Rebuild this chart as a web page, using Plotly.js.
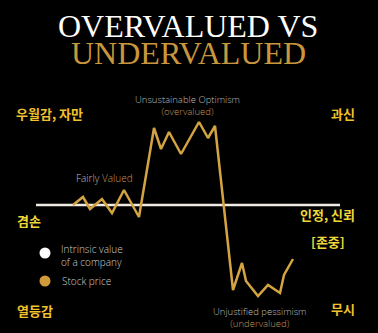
<!DOCTYPE html>
<html>
<head>
<meta charset="utf-8">
<script src="https://cdn.plot.ly/plotly-3.0.1.min.js"></script>
<style>
html,body{margin:0;padding:0;background:#000;}
#chart{width:378px;height:333px;}
</style>
</head>
<body>
<div id="chart"></div>
<script>
// Data (time index and price level; intrinsic value level)
const time = [73, 83, 90, 102, 112, 124, 139, 154, 161, 169, 181, 199, 208, 215, 233, 242, 246, 258, 268, 280, 284, 293];
const price = [128, 136, 124, 134, 120, 143, 116, 205, 184, 201, 179, 211, 195, 207, 43, 70, 52, 37, 48, 40, 58, 74];
const intrinsicTime = [36, 340];
const intrinsicValue = [128, 128];

const H = 333;
const Y = py => H - py; // page-position helper for labels

const gold = '#d4a443';
const korYellow = '#f2c22c';
const korYellow2 = '#f0d83a';
const grayTxt = '#bdbdbd';
const goldTxt = '#c4975a';
const sans = 'Open Sans, Lato, sans-serif';
const kor = 'Noto Sans CJK KR, sans-serif';

const traces = [
  {x: intrinsicTime, y: intrinsicValue, mode: 'lines', line: {color: '#efebe2', width: 2.5}, hoverinfo: 'skip'},
  {x: time, y: price, mode: 'lines', line: {color: gold, width: 2.5}, hoverinfo: 'skip'}
];

function ann(text, x, py, opts) {
  return Object.assign({x: x, y: Y(py), xref: 'x', yref: 'y', text: text, showarrow: false,
    xanchor: 'center', yanchor: 'middle', font: {family: sans, size: 10, color: grayTxt, weight: 300}}, opts || {});
}
function kann(text, x, py, anchor, color) {
  return ann(text, x, py, {xanchor: anchor, font: {family: kor, size: 13, color: color, weight: 700}});
}
const small = {family: sans, size: 9.5, color: grayTxt, weight: 300};

const annotations = [
  ann('OVERVALUED VS', 188, 26, {height: 26, font: {family: 'Liberation Serif, serif', size: 32, color: '#ffffff'}}),
  ann('UNDERVALUED', 188, 53, {height: 26, font: {family: 'Liberation Serif, serif', size: 32, color: '#c9963c'}}),
  ann('Unsustainable Optimism<br><span style="color:' + goldTxt + '">(overvalued)</span>', 187, 105.5, {font: small}),
  ann('Fairly <span style="color:' + goldTxt + '">Valued</span>', 104, 178),
  ann('Unjustified pessimism<br><span style="color:' + goldTxt + '">(undervalued)</span>', 260, 317.5, {font: small}),
  ann('Intrinsic value<br>of a company', 59, 255.5, {xanchor: 'left', align: 'left', font: {family: sans, size: 10, color: '#cfcfcf', weight: 300}}),
  ann('Stock price', 60, 281, {xanchor: 'left', font: {family: sans, size: 10, color: '#cfcfcf', weight: 300}}),
  kann('우월감, 자만', 14, 113, 'left', korYellow),
  kann('과신', 357, 113, 'right', korYellow),
  kann('겸손', 15, 220, 'left', korYellow2),
  kann('인정, 신뢰', 357, 214, 'right', korYellow2),
  kann('[존중]', 347, 241, 'right', korYellow2),
  kann('열등감', 15, 310, 'left', korYellow),
  kann('무시', 357, 308, 'right', korYellow)
];

const shapes = [
  {type: 'circle', xref: 'x', yref: 'y', x0: 39.5, x1: 50.5, y0: Y(258.5), y1: Y(247.5), fillcolor: '#ffffff', line: {width: 0}},
  {type: 'circle', xref: 'x', yref: 'y', x0: 39.5, x1: 50.5, y0: Y(286.5), y1: Y(275.5), fillcolor: '#d19a3a', line: {width: 0}}
];

const layout = {
  width: 378, height: 333,
  margin: {l: 0, r: 0, t: 0, b: 0},
  paper_bgcolor: '#000', plot_bgcolor: '#000',
  showlegend: false,
  xaxis: {range: [0, 378], visible: false, fixedrange: true},
  yaxis: {range: [0, 333], visible: false, fixedrange: true},
  annotations: annotations,
  shapes: shapes
};

Plotly.newPlot('chart', traces, layout, {displayModeBar: false, staticPlot: true});
</script>
</body>
</html>
